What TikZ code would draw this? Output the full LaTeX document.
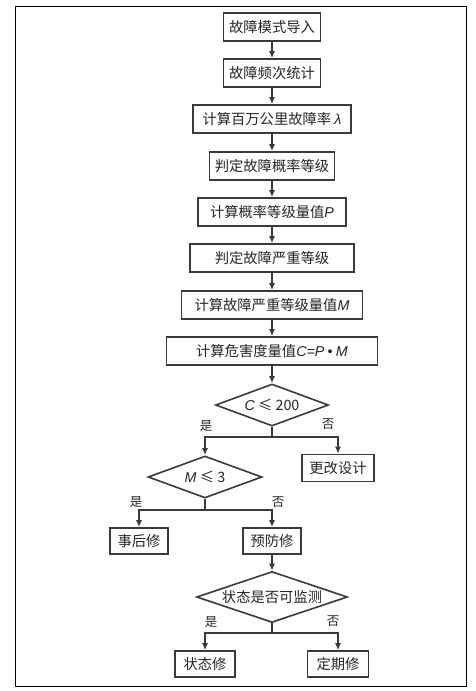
\documentclass[tikz,border=0pt]{standalone}
\usepackage{fontspec}
\setmainfont{Noto Sans CJK SC}
\newfontfamily\latinsans{Liberation Sans}
\usetikzlibrary{arrows.meta,shapes.geometric}
\definecolor{ink}{HTML}{3A3A3A}
\newcommand{\qv}[1]{{\latinsans\itshape #1}}

\begin{document}
\begin{tikzpicture}[x=1pt, y=-1pt,
  font=\fontsize{14.3}{16}\selectfont,
  every node/.style={align=center},
  blk/.style={draw=ink, line width=1.6pt, fill=white, minimum height=28pt,
              inner sep=0pt, text=black!85},
  dec/.style={draw=ink, line width=1.6pt, shape=diamond, fill=white,
              inner sep=0pt, text=black!85},
  fl/.style={-{Latex[length=7pt,width=6pt]}, draw=ink, line width=1.6pt},
  ln/.style={draw=ink, line width=1.6pt},
  yn/.style={font=\fontsize{12.5}{14}\selectfont, text=black!85},
]
\useasboundingbox (0,0) rectangle (475,691);
\draw[line width=0.9pt] (15,6) rectangle (466,686);

% ---------- main column ----------
\foreach \i/\y/\w/\txt in {
  1/27/97/{故障模式导入},
  2/73/97/{故障频次统计},
  3/119/158/{计算百万公里故障率 \qv{λ}},
  4/166/125/{判定故障概率等级},
  5/212/148/{计算概率等级量值\qv{P}},
  6/258/164/{判定故障严重等级},
  7/305/181/{计算故障严重等级量值\qv{M}},
  8/351/211/{计算危害度量值\qv{C=P} {\latinsans •} \qv{M}}} {
  \node[blk, minimum width=\w pt] (b\i) at (272,\y) {\txt};
}
\foreach \a/\b in {b1/b2, b2/b3, b3/b4, b4/b5, b5/b6, b6/b7, b7/b8} {
  \draw[fl] (\a) -- (\b);
}

% ---------- criticality check ----------
\node[dec, minimum width=113pt, minimum height=42pt, aspect=2.7] (d1) at (272,405)
  {\qv{C} ≤ 200};
\node[blk, minimum width=72pt, minimum height=27pt] (redesign) at (338,468) {更改设计};
\draw[fl] (b8) -- (d1);
\coordinate (j1) at (272,437);
\draw[ln] (d1.south) -- (j1);
\node[yn] (y1) at (206,426) {是};
\node[yn] (n1) at (328,424) {否};

% ---------- severity check ----------
\node[dec, minimum width=114pt, minimum height=42pt, aspect=2.7] (d2) at (205,477)
  {\qv{M} ≤ 3};
\draw[fl] (j1) -| (d2.north);
\draw[fl] (j1) -| (redesign.north);
\node[blk, minimum width=58pt, minimum height=26pt] (after) at (139,541) {事后修};
\node[blk, minimum width=58pt, minimum height=26pt] (prev) at (272,541) {预防修};
\coordinate (j2) at (205,510);
\draw[ln] (d2.south) -- (j2);
\draw[fl] (j2) -| (after.north);
\draw[fl] (j2) -| (prev.north);
\node[yn] (y2) at (136,502) {是};
\node[yn] (n2) at (278,502) {否};

% ---------- monitoring check ----------
\node[dec, minimum width=151pt, minimum height=51pt, aspect=3] (d3) at (272,597)
  {状态是否可监测};
\draw[fl] (prev) -- (d3);
\node[blk, minimum width=60pt, minimum height=26pt] (cond) at (205,664) {状态修};
\node[blk, minimum width=61pt, minimum height=26pt] (period) at (338,664) {定期修};
\coordinate (j3) at (272,633);
\draw[ln] (d3.south) -- (j3);
\draw[fl] (j3) -| (cond.north);
\draw[fl] (j3) -| (period.north);
\node[yn] (y3) at (211,622) {是};
\node[yn] (n3) at (333,621) {否};
\end{tikzpicture}
\end{document}
